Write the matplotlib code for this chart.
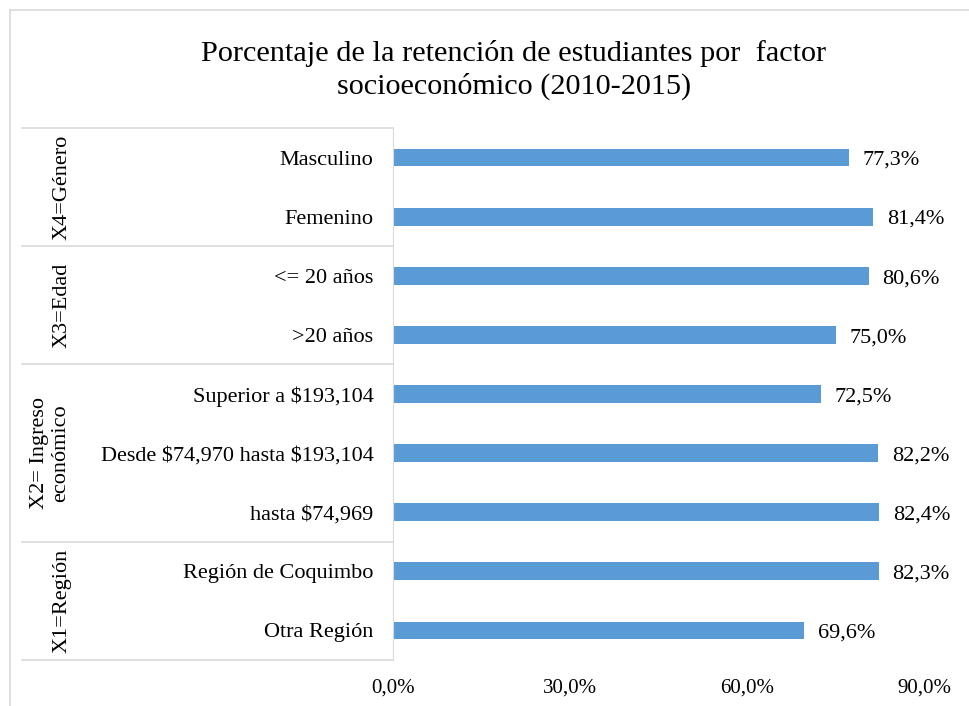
import matplotlib.pyplot as plt
from matplotlib.lines import Line2D

plt.rcParams['font.family'] = ['Liberation Serif', 'DejaVu Serif']

# bottom to top, as drawn
labels = ['Otra Región', 'Región de Coquimbo', 'hasta \\$74,969',
          'Desde \\$74,970 hasta \\$193,104', 'Superior a \\$193,104',
          '>20 años', '<= 20 años', 'Femenino', 'Masculino']
values = [69.6, 82.3, 82.4, 82.2, 72.5, 75.0, 80.6, 81.4, 77.3]
groups = ['X1=Región', 'X2= Ingreso\neconómico', 'X3=Edad', 'X4=Género']
group_sizes = [2, 3, 2, 2]
xticks = [0, 30, 60, 90]

W, H = 970, 706
fig = plt.figure(figsize=(W / 100, H / 100), dpi=100)
ax = fig.add_axes([393 / W, 1 - 660 / H, (924 - 393) / W, (660 - 128) / H])

y = list(range(len(values)))
bars = ax.barh(y, values, height=0.3, color='#5B9BD5')
for yi, v in zip(y, values):
    ax.annotate(f'{v:.1f}%'.replace('.', ','), (v, yi), xytext=(10, -2),
                textcoords='offset points', va='center', fontsize=16)

ax.set_xlim(0, 90)
ax.set_ylim(-0.5, len(values) - 0.5)
ax.set_xticks(xticks)
ax.set_xticklabels([f'{t:.1f}%'.replace('.', ',') for t in xticks], fontsize=15)
ax.set_yticks(y)
ax.set_yticklabels(labels, fontsize=16)
ax.tick_params(axis='y', length=0, pad=14)
ax.tick_params(axis='x', length=0, pad=13)

for s in ['top', 'right', 'bottom']:
    ax.spines[s].set_visible(False)
ax.spines['left'].set_color('#d9d9d9')

# category table lines and group labels
tr = ax.get_yaxis_transform()
x_left = (22 - 393) / (924 - 393)
start = -0.5
ax.plot([x_left, 0], [start, start], color='#d9d9d9', lw=1.2,
        transform=tr, clip_on=False)
for g, n in zip(groups, group_sizes):
    end = start + n
    ax.plot([x_left, 0], [end, end], color='#d9d9d9', lw=1.2,
            transform=tr, clip_on=False)
    xg = (62 - 393) / (924 - 393) if '\n' not in g else (50 - 393) / (924 - 393)
    ax.text(xg, (start + end) / 2, g, rotation=90, ha='center', va='center',
            fontsize=16, transform=tr, linespacing=1.1)
    start = end

fig.text(514 / W, 1 - 70 / H,
         'Porcentaje de la retención de estudiantes por  factor\nsocioeconómico (2010-2015)',
         ha='center', va='center', fontsize=21.8, linespacing=1.3)

# chart border (only top and left visible)
fig.add_artist(Line2D([10 / W, 1], [1 - 10 / H, 1 - 10 / H], color='#d9d9d9', lw=1.2))
fig.add_artist(Line2D([10 / W, 10 / W], [0, 1 - 10 / H], color='#d9d9d9', lw=1.2))

fig.savefig('out.png', dpi=100)
